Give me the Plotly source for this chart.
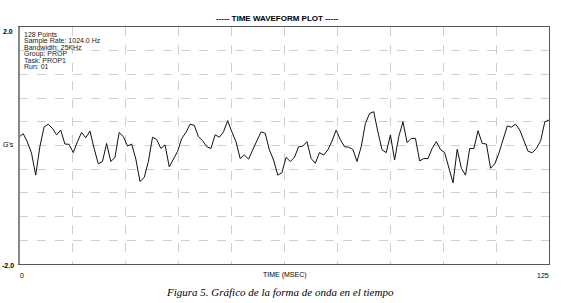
import plotly.graph_objects as go

# ---- data ----
n_points = 128
t_end = 125.0
g_values = [
    0.14, 0.20, 0.06, -0.13, -0.50, -0.02, 0.31, 0.36, 0.29, 0.18,
    0.26, 0.025, 0.02, -0.12, 0.065, 0.22, 0.13, 0.245, -0.05, -0.31,
    -0.27, 0.035, -0.27, -0.20, 0.22, 0.15, -0.01, 0.025, -0.23, -0.61,
    -0.54, -0.27, 0.14, 0.10, -0.05, 0.01, -0.36, -0.23, -0.10, 0.12,
    0.22, 0.36, 0.34, 0.15, 0.08, -0.02, -0.05, 0.18, 0.14, 0.23,
    0.42, 0.23, 0.065, -0.22, -0.16, -0.23, -0.065, 0.08, 0.23, 0.205,
    -0.075, -0.245, -0.50, -0.46, -0.20, -0.27, -0.20, -0.02, -0.01, 0.065,
    -0.22, -0.30, -0.12, -0.16, -0.075, 0.075, 0.26, 0.10, -0.02, -0.03,
    -0.065, -0.27, -0.02, 0.37, 0.54, 0.57, 0.23, -0.075, -0.12, 0.18,
    -0.245, 0.15, 0.40, 0.05, 0.12, 0.12, -0.26, -0.22, -0.22, -0.05,
    0.065, -0.07, -0.12, -0.36, -0.63, -0.065, -0.385, -0.50, -0.05, -0.05,
    0.25, 0.035, 0.025, -0.385, -0.31, -0.13, 0.09, 0.33, 0.31, 0.36,
    0.26, 0.09, -0.10, -0.12, -0.05, 0.08, 0.40, 0.43,
]
time_ms = [i * t_end / (n_points - 1) for i in range(n_points)]

x_tick_labels = ["0", "125"]
y_tick_labels = ["2.0", "-2.0"]
y_title = "G's"
x_title = "TIME (MSEC)"
chart_title = "----- TIME WAVEFORM PLOT -----"
info_lines = ["128 Points", "Sample Rate: 1024.0 Hz", "Bandwidth: 25KHz",
              "Group: PROP", "Task: PROP1", "Run: 01"]
caption = "Figura 5. Gráfico de la forma de onda en el tiempo"

# ---- layout geometry (pixels) ----
W, H = 561, 303
L, R, T, B = 19, 549, 27, 264


def px(x):
    return (x - L) / (R - L)


def py(y):
    return 1 - (y - T) / (B - T)


SANS = "Liberation Sans, Arial, sans-serif"

fig = go.Figure()
fig.add_trace(go.Scatter(x=time_ms, y=g_values, mode="lines",
                         line=dict(color="#111111", width=1),
                         hoverinfo="skip", showlegend=False))

ann = []
ann.append(dict(text="<b>" + chart_title + "</b>", x=px(277), y=py(18),
                font=dict(family=SANS, size=8, color="#000")))
ann.append(dict(text=caption, x=px(280), y=py(292),
                font=dict(family="Liberation Serif, Times New Roman, serif",
                          size=11, color="#000", style="italic")))
ann.append(dict(text=x_title, x=px(285), y=py(275),
                font=dict(family=SANS, size=7, color="#000")))
ann.append(dict(text=x_tick_labels[0], x=px(22), y=py(275),
                font=dict(family=SANS, size=7, color="#000")))
ann.append(dict(text=x_tick_labels[1], x=px(543), y=py(275),
                font=dict(family=SANS, size=7, color="#000")))
ann.append(dict(text="<b>" + y_tick_labels[0] + "</b>", x=px(8), y=py(32),
                font=dict(family=SANS, size=7, color="#000")))
ann.append(dict(text="<b>" + y_tick_labels[1] + "</b>", x=px(8), y=py(265),
                font=dict(family=SANS, size=7, color="#000")))
ann.append(dict(text=y_title, x=px(8), y=py(144),
                font=dict(family=SANS, size=7, color="#000")))
for i, line in enumerate(info_lines):
    ann.append(dict(text=line, x=px(22), y=py(34.5 + 6.4 * i), xanchor="left",
                    font=dict(family=SANS, size=7, color="#222")))

for a in ann:
    a.setdefault("xanchor", "center")
    a.update(xref="paper", yref="paper", yanchor="middle", showarrow=False)

fig.update_layout(
    width=W, height=H,
    margin=dict(l=L, r=W - R, t=T, b=H - B, pad=0),
    paper_bgcolor="white", plot_bgcolor="white",
    annotations=ann,
    xaxis=dict(range=[0, t_end], dtick=t_end / 10, tick0=0,
               showticklabels=False, ticks="",
               showgrid=True, gridcolor="#cfcfcf", griddash="dash", gridwidth=1,
               showline=True, linecolor="#555555", linewidth=1, mirror=True,
               zeroline=False, fixedrange=True),
    yaxis=dict(range=[-2, 2], dtick=0.4, tick0=-2,
               showticklabels=False, ticks="",
               showgrid=True, gridcolor="#cfcfcf", griddash="dash", gridwidth=1,
               showline=True, linecolor="#555555", linewidth=1, mirror=True,
               zeroline=False, fixedrange=True),
    shapes=[dict(type="line", xref="paper", yref="paper", x0=0, x1=0, y0=0, y1=1,
                 line=dict(color="#888888", width=2))],
)

fig.write_html(
    "out.html",
    config={"displayModeBar": False, "staticPlot": True},
    post_script="document.body.style.margin='0';document.body.style.overflow='hidden';",
)
